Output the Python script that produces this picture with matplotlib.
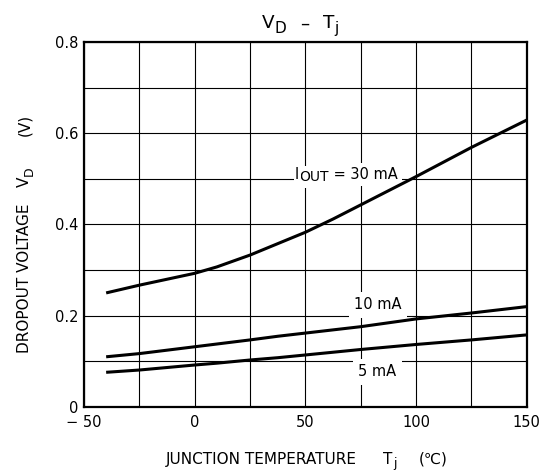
import numpy as np
import matplotlib
matplotlib.use("Agg")
import matplotlib.pyplot as plt
from matplotlib.ticker import MultipleLocator

plt.rcParams['font.family'] = ['DejaVu Sans']

# junction temperature (degC)
tj = [-40, -25, 0, 10, 25, 37.5, 50, 62.5, 75, 100, 125, 150]
# dropout voltage (V) per output current
vd_30ma = [0.250, 0.267, 0.293, 0.307, 0.333, 0.358, 0.383, 0.412, 0.443, 0.505, 0.569, 0.629]
vd_10ma = [0.110, 0.117, 0.132, 0.138, 0.147, 0.155, 0.162, 0.169, 0.176, 0.193, 0.206, 0.220]
vd_5ma = [0.076, 0.081, 0.092, 0.096, 0.103, 0.108, 0.114, 0.120, 0.126, 0.137, 0.147, 0.158]

xticks = [-50, 0, 50, 100, 150]
xticklabels = ['\u2212 50', '0', '50', '100', '150']
yticks = [0, 0.2, 0.4, 0.6, 0.8]
yticklabels = ['0', '0.2', '0.4', '0.6', '0.8']

fig = plt.figure(figsize=(5.42, 4.74), dpi=100)
ax = fig.add_axes([0.155, 0.1414, 0.817, 0.7700])

for v in (vd_30ma, vd_10ma, vd_5ma):
    ax.plot(tj, v, color='black', lw=2.2, zorder=4, solid_capstyle='butt')

ax.set_xlim(-50, 150)
ax.set_ylim(0, 0.8)
ax.set_xticks(xticks)
ax.set_xticklabels(xticklabels)
ax.set_yticks(yticks)
ax.set_yticklabels(yticklabels)
ax.xaxis.set_minor_locator(MultipleLocator(25))
ax.yaxis.set_minor_locator(MultipleLocator(0.1))
ax.grid(which='both', color='black', lw=0.8)
ax.set_axisbelow(True)
ax.tick_params(which='both', length=0, labelsize=10.5)
ax.tick_params(axis='x', pad=6)
ax.tick_params(axis='y', pad=4)
for s in ax.spines.values():
    s.set_linewidth(1.6)


def chain(first, pieces, rotated=False, **kw):
    # pieces: (text, fontsize, gap before in pt, shift in pt, negative = subscript)
    prev = first
    out = []
    for s, fs, gap, dy in pieces:
        if rotated:
            prev = ax.annotate(s, xy=(1, 1), xycoords=prev, xytext=(-dy, gap),
                               textcoords='offset points', ha='right', va='bottom',
                               rotation=90, fontsize=fs, **kw)
        else:
            prev = ax.annotate(s, xy=(1, 0), xycoords=prev, xytext=(gap, dy),
                               textcoords='offset points', ha='left', va='bottom',
                               fontsize=fs, **kw)
        out.append(prev)
    return out


# curve labels (white boxes hide the grid behind them)
t = ax.text(45.3, 0.4997, 'I', ha='left', va='baseline', fontsize=10.5,
            bbox=dict(facecolor='white', edgecolor='none', pad=1), zorder=3.6)
sub, rest = chain(t, [('OUT', 10, 0.3, -1.5), (' = 30 mA', 10.5, 0, 1.5)])
sub.set_bbox(dict(facecolor='white', edgecolor='none', pad=3))
sub.set_zorder(3.5)
rest.set_bbox(dict(facecolor='white', edgecolor='none', pad=3))
rest.set_zorder(3.4)
ax.text(82.7, 0.2236, '10 mA', ha='center', va='center', fontsize=10.5,
        bbox=dict(facecolor='white', edgecolor='none', pad=4), zorder=3)
ax.text(82.5, 0.0775, '5 mA', ha='center', va='center', fontsize=10.5,
        bbox=dict(facecolor='white', edgecolor='none', pad=4), zorder=3)

# title
t = fig.text(0.4828, 0.9403, 'V', ha='left', va='baseline', fontsize=13.2)
chain(t, [('D', 11, 0, -2.5), ('\u2013', 13.2, 10, 2.5), ('T', 13.2, 10, 0), ('j', 11, 0, -2.5)])

# x label
t = fig.text(0.3063, 0.0211, 'JUNCTION TEMPERATURE', ha='left', va='baseline', fontsize=11)
chain(t, [('T', 11, 19, 0), ('j', 9, 0.3, -2.5), ('(\u2103)', 11, 16, 2.5)])

# y label
t = fig.text(0.0589, 0.2553, 'DROPOUT VOLTAGE', ha='right', va='bottom',
             rotation=90, fontsize=11)
chain(t, [('V', 11, 12, 0), ('D', 9, 0, -2.5), ('(V)', 11, 22, 2.5)], rotated=True)

fig.savefig('out.png', dpi=100)
